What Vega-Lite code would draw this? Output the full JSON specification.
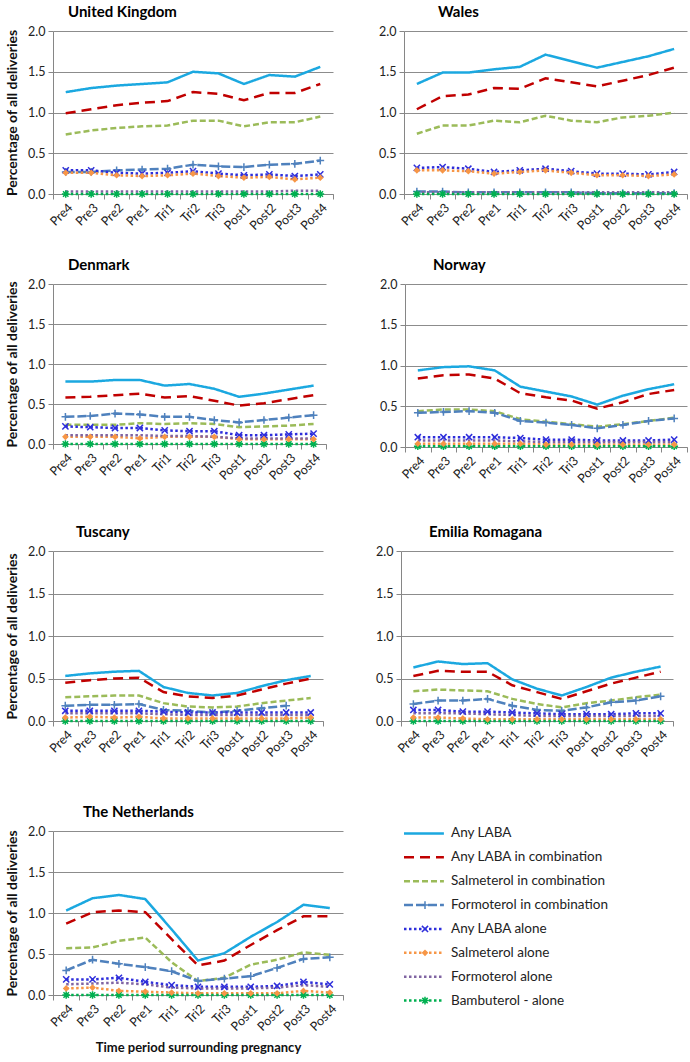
{
"$schema":"https://vega.github.io/schema/vega-lite/v6.json",
"background":"white",
"padding":5,
"config":{
 "view":{"stroke":null},
 "font":"Lato",
 "axis":{"domainColor":"#868686","tickColor":"#868686","gridColor":"#8c8c8c","labelFont":"Lato","labelColor":"#222","titleFont":"Lato","titleFontSize":14,"titleFontWeight":"bold","titleColor":"#111","tickSize":5},
 "axisX":{"grid":false,"labelFontSize":12.5,"labelAngle":-45,"tickBand":"extent","title":null},
 "axisY":{"labelFontSize":12.5,"grid":true,"labelPadding":3,"titlePadding":8},
 "title":{"font":"Lato","fontSize":15,"fontWeight":"bold","anchor":"start","frame":"group","color":"#000","offset":5}
},
"datasets":{
"leg":[
{"s":"A","label":"Any LABA"},{"s":"B","label":"Any LABA in combination"},{"s":"C","label":"Salmeterol in combination"},{"s":"D","label":"Formoterol in combination"},{"s":"E","label":"Any LABA alone"},{"s":"F","label":"Salmeterol alone"},{"s":"G","label":"Formoterol alone"},{"s":"H","label":"Bambuterol - alone"}
],
"main":[
{"r":"UK","s":"A","p":"Pre4","v":1.25},{"r":"UK","s":"A","p":"Pre3","v":1.30},{"r":"UK","s":"A","p":"Pre2","v":1.33},{"r":"UK","s":"A","p":"Pre1","v":1.35},{"r":"UK","s":"A","p":"Tri1","v":1.37},{"r":"UK","s":"A","p":"Tri2","v":1.50},{"r":"UK","s":"A","p":"Tri3","v":1.48},{"r":"UK","s":"A","p":"Post1","v":1.35},{"r":"UK","s":"A","p":"Post2","v":1.46},{"r":"UK","s":"A","p":"Post3","v":1.44},{"r":"UK","s":"A","p":"Post4","v":1.56},
{"r":"UK","s":"B","p":"Pre4","v":0.99},{"r":"UK","s":"B","p":"Pre3","v":1.04},{"r":"UK","s":"B","p":"Pre2","v":1.09},{"r":"UK","s":"B","p":"Pre1","v":1.12},{"r":"UK","s":"B","p":"Tri1","v":1.14},{"r":"UK","s":"B","p":"Tri2","v":1.25},{"r":"UK","s":"B","p":"Tri3","v":1.23},{"r":"UK","s":"B","p":"Post1","v":1.15},{"r":"UK","s":"B","p":"Post2","v":1.24},{"r":"UK","s":"B","p":"Post3","v":1.24},{"r":"UK","s":"B","p":"Post4","v":1.35},
{"r":"UK","s":"C","p":"Pre4","v":0.73},{"r":"UK","s":"C","p":"Pre3","v":0.78},{"r":"UK","s":"C","p":"Pre2","v":0.81},{"r":"UK","s":"C","p":"Pre1","v":0.83},{"r":"UK","s":"C","p":"Tri1","v":0.84},{"r":"UK","s":"C","p":"Tri2","v":0.90},{"r":"UK","s":"C","p":"Tri3","v":0.90},{"r":"UK","s":"C","p":"Post1","v":0.83},{"r":"UK","s":"C","p":"Post2","v":0.88},{"r":"UK","s":"C","p":"Post3","v":0.88},{"r":"UK","s":"C","p":"Post4","v":0.95},
{"r":"UK","s":"D","p":"Pre4","v":0.27},{"r":"UK","s":"D","p":"Pre3","v":0.27},{"r":"UK","s":"D","p":"Pre2","v":0.29},{"r":"UK","s":"D","p":"Pre1","v":0.30},{"r":"UK","s":"D","p":"Tri1","v":0.31},{"r":"UK","s":"D","p":"Tri2","v":0.36},{"r":"UK","s":"D","p":"Tri3","v":0.34},{"r":"UK","s":"D","p":"Post1","v":0.33},{"r":"UK","s":"D","p":"Post2","v":0.36},{"r":"UK","s":"D","p":"Post3","v":0.37},{"r":"UK","s":"D","p":"Post4","v":0.41},
{"r":"UK","s":"E","p":"Pre4","v":0.29},{"r":"UK","s":"E","p":"Pre3","v":0.29},{"r":"UK","s":"E","p":"Pre2","v":0.26},{"r":"UK","s":"E","p":"Pre1","v":0.25},{"r":"UK","s":"E","p":"Tri1","v":0.26},{"r":"UK","s":"E","p":"Tri2","v":0.28},{"r":"UK","s":"E","p":"Tri3","v":0.25},{"r":"UK","s":"E","p":"Post1","v":0.23},{"r":"UK","s":"E","p":"Post2","v":0.24},{"r":"UK","s":"E","p":"Post3","v":0.22},{"r":"UK","s":"E","p":"Post4","v":0.24},
{"r":"UK","s":"F","p":"Pre4","v":0.26},{"r":"UK","s":"F","p":"Pre3","v":0.26},{"r":"UK","s":"F","p":"Pre2","v":0.23},{"r":"UK","s":"F","p":"Pre1","v":0.22},{"r":"UK","s":"F","p":"Tri1","v":0.23},{"r":"UK","s":"F","p":"Tri2","v":0.25},{"r":"UK","s":"F","p":"Tri3","v":0.22},{"r":"UK","s":"F","p":"Post1","v":0.20},{"r":"UK","s":"F","p":"Post2","v":0.21},{"r":"UK","s":"F","p":"Post3","v":0.18},{"r":"UK","s":"F","p":"Post4","v":0.20},
{"r":"UK","s":"G","p":"Pre4","v":0.03},{"r":"UK","s":"G","p":"Pre3","v":0.03},{"r":"UK","s":"G","p":"Pre2","v":0.03},{"r":"UK","s":"G","p":"Pre1","v":0.03},{"r":"UK","s":"G","p":"Tri1","v":0.03},{"r":"UK","s":"G","p":"Tri2","v":0.03},{"r":"UK","s":"G","p":"Tri3","v":0.03},{"r":"UK","s":"G","p":"Post1","v":0.03},{"r":"UK","s":"G","p":"Post2","v":0.03},{"r":"UK","s":"G","p":"Post3","v":0.04},{"r":"UK","s":"G","p":"Post4","v":0.04},
{"r":"UK","s":"H","p":"Pre4","v":0.0},{"r":"UK","s":"H","p":"Pre3","v":0.0},{"r":"UK","s":"H","p":"Pre2","v":0.0},{"r":"UK","s":"H","p":"Pre1","v":0.0},{"r":"UK","s":"H","p":"Tri1","v":0.0},{"r":"UK","s":"H","p":"Tri2","v":0.0},{"r":"UK","s":"H","p":"Tri3","v":0.0},{"r":"UK","s":"H","p":"Post1","v":0.0},{"r":"UK","s":"H","p":"Post2","v":0.0},{"r":"UK","s":"H","p":"Post3","v":0.0},{"r":"UK","s":"H","p":"Post4","v":0.0},
{"r":"WA","s":"A","p":"Pre4","v":1.35},{"r":"WA","s":"A","p":"Pre3","v":1.49},{"r":"WA","s":"A","p":"Pre2","v":1.49},{"r":"WA","s":"A","p":"Pre1","v":1.53},{"r":"WA","s":"A","p":"Tri1","v":1.56},{"r":"WA","s":"A","p":"Tri2","v":1.71},{"r":"WA","s":"A","p":"Tri3","v":1.63},{"r":"WA","s":"A","p":"Post1","v":1.55},{"r":"WA","s":"A","p":"Post2","v":1.62},{"r":"WA","s":"A","p":"Post3","v":1.69},{"r":"WA","s":"A","p":"Post4","v":1.78},
{"r":"WA","s":"B","p":"Pre4","v":1.04},{"r":"WA","s":"B","p":"Pre3","v":1.20},{"r":"WA","s":"B","p":"Pre2","v":1.22},{"r":"WA","s":"B","p":"Pre1","v":1.30},{"r":"WA","s":"B","p":"Tri1","v":1.29},{"r":"WA","s":"B","p":"Tri2","v":1.42},{"r":"WA","s":"B","p":"Tri3","v":1.37},{"r":"WA","s":"B","p":"Post1","v":1.32},{"r":"WA","s":"B","p":"Post2","v":1.39},{"r":"WA","s":"B","p":"Post3","v":1.46},{"r":"WA","s":"B","p":"Post4","v":1.55},
{"r":"WA","s":"C","p":"Pre4","v":0.74},{"r":"WA","s":"C","p":"Pre3","v":0.84},{"r":"WA","s":"C","p":"Pre2","v":0.84},{"r":"WA","s":"C","p":"Pre1","v":0.90},{"r":"WA","s":"C","p":"Tri1","v":0.88},{"r":"WA","s":"C","p":"Tri2","v":0.96},{"r":"WA","s":"C","p":"Tri3","v":0.90},{"r":"WA","s":"C","p":"Post1","v":0.88},{"r":"WA","s":"C","p":"Post2","v":0.94},{"r":"WA","s":"C","p":"Post3","v":0.96},{"r":"WA","s":"C","p":"Post4","v":1.00},
{"r":"WA","s":"D","p":"Pre4","v":0.03},{"r":"WA","s":"D","p":"Pre3","v":0.03},{"r":"WA","s":"D","p":"Pre2","v":0.02},{"r":"WA","s":"D","p":"Pre1","v":0.02},{"r":"WA","s":"D","p":"Tri1","v":0.02},{"r":"WA","s":"D","p":"Tri2","v":0.02},{"r":"WA","s":"D","p":"Tri3","v":0.02},{"r":"WA","s":"D","p":"Post1","v":0.01},{"r":"WA","s":"D","p":"Post2","v":0.01},{"r":"WA","s":"D","p":"Post3","v":0.01},{"r":"WA","s":"D","p":"Post4","v":0.01},
{"r":"WA","s":"E","p":"Pre4","v":0.32},{"r":"WA","s":"E","p":"Pre3","v":0.33},{"r":"WA","s":"E","p":"Pre2","v":0.31},{"r":"WA","s":"E","p":"Pre1","v":0.27},{"r":"WA","s":"E","p":"Tri1","v":0.29},{"r":"WA","s":"E","p":"Tri2","v":0.31},{"r":"WA","s":"E","p":"Tri3","v":0.28},{"r":"WA","s":"E","p":"Post1","v":0.25},{"r":"WA","s":"E","p":"Post2","v":0.25},{"r":"WA","s":"E","p":"Post3","v":0.24},{"r":"WA","s":"E","p":"Post4","v":0.27},
{"r":"WA","s":"F","p":"Pre4","v":0.29},{"r":"WA","s":"F","p":"Pre3","v":0.29},{"r":"WA","s":"F","p":"Pre2","v":0.28},{"r":"WA","s":"F","p":"Pre1","v":0.25},{"r":"WA","s":"F","p":"Tri1","v":0.27},{"r":"WA","s":"F","p":"Tri2","v":0.29},{"r":"WA","s":"F","p":"Tri3","v":0.26},{"r":"WA","s":"F","p":"Post1","v":0.23},{"r":"WA","s":"F","p":"Post2","v":0.23},{"r":"WA","s":"F","p":"Post3","v":0.22},{"r":"WA","s":"F","p":"Post4","v":0.24},
{"r":"WA","s":"G","p":"Pre4","v":0.02},{"r":"WA","s":"G","p":"Pre3","v":0.02},{"r":"WA","s":"G","p":"Pre2","v":0.02},{"r":"WA","s":"G","p":"Pre1","v":0.02},{"r":"WA","s":"G","p":"Tri1","v":0.02},{"r":"WA","s":"G","p":"Tri2","v":0.02},{"r":"WA","s":"G","p":"Tri3","v":0.02},{"r":"WA","s":"G","p":"Post1","v":0.02},{"r":"WA","s":"G","p":"Post2","v":0.02},{"r":"WA","s":"G","p":"Post3","v":0.02},{"r":"WA","s":"G","p":"Post4","v":0.02},
{"r":"WA","s":"H","p":"Pre4","v":0.0},{"r":"WA","s":"H","p":"Pre3","v":0.0},{"r":"WA","s":"H","p":"Pre2","v":0.0},{"r":"WA","s":"H","p":"Pre1","v":0.0},{"r":"WA","s":"H","p":"Tri1","v":0.0},{"r":"WA","s":"H","p":"Tri2","v":0.0},{"r":"WA","s":"H","p":"Tri3","v":0.0},{"r":"WA","s":"H","p":"Post1","v":0.0},{"r":"WA","s":"H","p":"Post2","v":0.0},{"r":"WA","s":"H","p":"Post3","v":0.0},{"r":"WA","s":"H","p":"Post4","v":0.0},
{"r":"DK","s":"A","p":"Pre4","v":0.78},{"r":"DK","s":"A","p":"Pre3","v":0.78},{"r":"DK","s":"A","p":"Pre2","v":0.80},{"r":"DK","s":"A","p":"Pre1","v":0.80},{"r":"DK","s":"A","p":"Tri1","v":0.73},{"r":"DK","s":"A","p":"Tri2","v":0.75},{"r":"DK","s":"A","p":"Tri3","v":0.69},{"r":"DK","s":"A","p":"Post1","v":0.59},{"r":"DK","s":"A","p":"Post2","v":0.63},{"r":"DK","s":"A","p":"Post3","v":0.68},{"r":"DK","s":"A","p":"Post4","v":0.73},
{"r":"DK","s":"B","p":"Pre4","v":0.58},{"r":"DK","s":"B","p":"Pre3","v":0.59},{"r":"DK","s":"B","p":"Pre2","v":0.61},{"r":"DK","s":"B","p":"Pre1","v":0.63},{"r":"DK","s":"B","p":"Tri1","v":0.58},{"r":"DK","s":"B","p":"Tri2","v":0.60},{"r":"DK","s":"B","p":"Tri3","v":0.54},{"r":"DK","s":"B","p":"Post1","v":0.48},{"r":"DK","s":"B","p":"Post2","v":0.51},{"r":"DK","s":"B","p":"Post3","v":0.56},{"r":"DK","s":"B","p":"Post4","v":0.61},
{"r":"DK","s":"C","p":"Pre4","v":0.24},{"r":"DK","s":"C","p":"Pre3","v":0.24},{"r":"DK","s":"C","p":"Pre2","v":0.24},{"r":"DK","s":"C","p":"Pre1","v":0.26},{"r":"DK","s":"C","p":"Tri1","v":0.25},{"r":"DK","s":"C","p":"Tri2","v":0.26},{"r":"DK","s":"C","p":"Tri3","v":0.25},{"r":"DK","s":"C","p":"Post1","v":0.21},{"r":"DK","s":"C","p":"Post2","v":0.22},{"r":"DK","s":"C","p":"Post3","v":0.23},{"r":"DK","s":"C","p":"Post4","v":0.25},
{"r":"DK","s":"D","p":"Pre4","v":0.34},{"r":"DK","s":"D","p":"Pre3","v":0.35},{"r":"DK","s":"D","p":"Pre2","v":0.38},{"r":"DK","s":"D","p":"Pre1","v":0.37},{"r":"DK","s":"D","p":"Tri1","v":0.34},{"r":"DK","s":"D","p":"Tri2","v":0.34},{"r":"DK","s":"D","p":"Tri3","v":0.30},{"r":"DK","s":"D","p":"Post1","v":0.27},{"r":"DK","s":"D","p":"Post2","v":0.30},{"r":"DK","s":"D","p":"Post3","v":0.33},{"r":"DK","s":"D","p":"Post4","v":0.36},
{"r":"DK","s":"E","p":"Pre4","v":0.22},{"r":"DK","s":"E","p":"Pre3","v":0.21},{"r":"DK","s":"E","p":"Pre2","v":0.20},{"r":"DK","s":"E","p":"Pre1","v":0.20},{"r":"DK","s":"E","p":"Tri1","v":0.17},{"r":"DK","s":"E","p":"Tri2","v":0.16},{"r":"DK","s":"E","p":"Tri3","v":0.16},{"r":"DK","s":"E","p":"Post1","v":0.11},{"r":"DK","s":"E","p":"Post2","v":0.11},{"r":"DK","s":"E","p":"Post3","v":0.12},{"r":"DK","s":"E","p":"Post4","v":0.13},
{"r":"DK","s":"F","p":"Pre4","v":0.09},{"r":"DK","s":"F","p":"Pre3","v":0.09},{"r":"DK","s":"F","p":"Pre2","v":0.09},{"r":"DK","s":"F","p":"Pre1","v":0.07},{"r":"DK","s":"F","p":"Tri1","v":0.09},{"r":"DK","s":"F","p":"Tri2","v":0.09},{"r":"DK","s":"F","p":"Tri3","v":0.09},{"r":"DK","s":"F","p":"Post1","v":0.06},{"r":"DK","s":"F","p":"Post2","v":0.06},{"r":"DK","s":"F","p":"Post3","v":0.06},{"r":"DK","s":"F","p":"Post4","v":0.06},
{"r":"DK","s":"G","p":"Pre4","v":0.11},{"r":"DK","s":"G","p":"Pre3","v":0.11},{"r":"DK","s":"G","p":"Pre2","v":0.11},{"r":"DK","s":"G","p":"Pre1","v":0.11},{"r":"DK","s":"G","p":"Tri1","v":0.10},{"r":"DK","s":"G","p":"Tri2","v":0.10},{"r":"DK","s":"G","p":"Tri3","v":0.09},{"r":"DK","s":"G","p":"Post1","v":0.07},{"r":"DK","s":"G","p":"Post2","v":0.07},{"r":"DK","s":"G","p":"Post3","v":0.07},{"r":"DK","s":"G","p":"Post4","v":0.07},
{"r":"DK","s":"H","p":"Pre4","v":0.0},{"r":"DK","s":"H","p":"Pre3","v":0.0},{"r":"DK","s":"H","p":"Pre2","v":0.0},{"r":"DK","s":"H","p":"Pre1","v":0.0},{"r":"DK","s":"H","p":"Tri1","v":0.0},{"r":"DK","s":"H","p":"Tri2","v":0.0},{"r":"DK","s":"H","p":"Tri3","v":0.0},{"r":"DK","s":"H","p":"Post1","v":0.0},{"r":"DK","s":"H","p":"Post2","v":0.0},{"r":"DK","s":"H","p":"Post3","v":0.0},{"r":"DK","s":"H","p":"Post4","v":0.0},
{"r":"NO","s":"A","p":"Pre4","v":0.94},{"r":"NO","s":"A","p":"Pre3","v":0.98},{"r":"NO","s":"A","p":"Pre2","v":0.99},{"r":"NO","s":"A","p":"Pre1","v":0.94},{"r":"NO","s":"A","p":"Tri1","v":0.74},{"r":"NO","s":"A","p":"Tri2","v":0.68},{"r":"NO","s":"A","p":"Tri3","v":0.62},{"r":"NO","s":"A","p":"Post1","v":0.52},{"r":"NO","s":"A","p":"Post2","v":0.63},{"r":"NO","s":"A","p":"Post3","v":0.71},{"r":"NO","s":"A","p":"Post4","v":0.77},
{"r":"NO","s":"B","p":"Pre4","v":0.84},{"r":"NO","s":"B","p":"Pre3","v":0.88},{"r":"NO","s":"B","p":"Pre2","v":0.89},{"r":"NO","s":"B","p":"Pre1","v":0.84},{"r":"NO","s":"B","p":"Tri1","v":0.66},{"r":"NO","s":"B","p":"Tri2","v":0.61},{"r":"NO","s":"B","p":"Tri3","v":0.57},{"r":"NO","s":"B","p":"Post1","v":0.47},{"r":"NO","s":"B","p":"Post2","v":0.55},{"r":"NO","s":"B","p":"Post3","v":0.65},{"r":"NO","s":"B","p":"Post4","v":0.70},
{"r":"NO","s":"C","p":"Pre4","v":0.44},{"r":"NO","s":"C","p":"Pre3","v":0.46},{"r":"NO","s":"C","p":"Pre2","v":0.46},{"r":"NO","s":"C","p":"Pre1","v":0.44},{"r":"NO","s":"C","p":"Tri1","v":0.34},{"r":"NO","s":"C","p":"Tri2","v":0.31},{"r":"NO","s":"C","p":"Tri3","v":0.28},{"r":"NO","s":"C","p":"Post1","v":0.25},{"r":"NO","s":"C","p":"Post2","v":0.28},{"r":"NO","s":"C","p":"Post3","v":0.32},{"r":"NO","s":"C","p":"Post4","v":0.36},
{"r":"NO","s":"D","p":"Pre4","v":0.42},{"r":"NO","s":"D","p":"Pre3","v":0.43},{"r":"NO","s":"D","p":"Pre2","v":0.44},{"r":"NO","s":"D","p":"Pre1","v":0.42},{"r":"NO","s":"D","p":"Tri1","v":0.32},{"r":"NO","s":"D","p":"Tri2","v":0.30},{"r":"NO","s":"D","p":"Tri3","v":0.27},{"r":"NO","s":"D","p":"Post1","v":0.23},{"r":"NO","s":"D","p":"Post2","v":0.27},{"r":"NO","s":"D","p":"Post3","v":0.32},{"r":"NO","s":"D","p":"Post4","v":0.35},
{"r":"NO","s":"E","p":"Pre4","v":0.12},{"r":"NO","s":"E","p":"Pre3","v":0.12},{"r":"NO","s":"E","p":"Pre2","v":0.12},{"r":"NO","s":"E","p":"Pre1","v":0.12},{"r":"NO","s":"E","p":"Tri1","v":0.11},{"r":"NO","s":"E","p":"Tri2","v":0.09},{"r":"NO","s":"E","p":"Tri3","v":0.09},{"r":"NO","s":"E","p":"Post1","v":0.08},{"r":"NO","s":"E","p":"Post2","v":0.08},{"r":"NO","s":"E","p":"Post3","v":0.08},{"r":"NO","s":"E","p":"Post4","v":0.09},
{"r":"NO","s":"F","p":"Pre4","v":0.04},{"r":"NO","s":"F","p":"Pre3","v":0.04},{"r":"NO","s":"F","p":"Pre2","v":0.04},{"r":"NO","s":"F","p":"Pre1","v":0.04},{"r":"NO","s":"F","p":"Tri1","v":0.04},{"r":"NO","s":"F","p":"Tri2","v":0.03},{"r":"NO","s":"F","p":"Tri3","v":0.03},{"r":"NO","s":"F","p":"Post1","v":0.03},{"r":"NO","s":"F","p":"Post2","v":0.03},{"r":"NO","s":"F","p":"Post3","v":0.03},{"r":"NO","s":"F","p":"Post4","v":0.03},
{"r":"NO","s":"G","p":"Pre4","v":0.08},{"r":"NO","s":"G","p":"Pre3","v":0.08},{"r":"NO","s":"G","p":"Pre2","v":0.08},{"r":"NO","s":"G","p":"Pre1","v":0.08},{"r":"NO","s":"G","p":"Tri1","v":0.07},{"r":"NO","s":"G","p":"Tri2","v":0.06},{"r":"NO","s":"G","p":"Tri3","v":0.06},{"r":"NO","s":"G","p":"Post1","v":0.06},{"r":"NO","s":"G","p":"Post2","v":0.06},{"r":"NO","s":"G","p":"Post3","v":0.06},{"r":"NO","s":"G","p":"Post4","v":0.06},
{"r":"NO","s":"H","p":"Pre4","v":0.01},{"r":"NO","s":"H","p":"Pre3","v":0.01},{"r":"NO","s":"H","p":"Pre2","v":0.01},{"r":"NO","s":"H","p":"Pre1","v":0.01},{"r":"NO","s":"H","p":"Tri1","v":0.01},{"r":"NO","s":"H","p":"Tri2","v":0.01},{"r":"NO","s":"H","p":"Tri3","v":0.01},{"r":"NO","s":"H","p":"Post1","v":0.01},{"r":"NO","s":"H","p":"Post2","v":0.01},{"r":"NO","s":"H","p":"Post3","v":0.01},{"r":"NO","s":"H","p":"Post4","v":0.01},
{"r":"TU","s":"A","p":"Pre4","v":0.53},{"r":"TU","s":"A","p":"Pre3","v":0.56},{"r":"TU","s":"A","p":"Pre2","v":0.58},{"r":"TU","s":"A","p":"Pre1","v":0.59},{"r":"TU","s":"A","p":"Tri1","v":0.40},{"r":"TU","s":"A","p":"Tri2","v":0.33},{"r":"TU","s":"A","p":"Tri3","v":0.30},{"r":"TU","s":"A","p":"Post1","v":0.33},{"r":"TU","s":"A","p":"Post2","v":0.41},{"r":"TU","s":"A","p":"Post3","v":0.48},{"r":"TU","s":"A","p":"Post4","v":0.53},
{"r":"TU","s":"B","p":"Pre4","v":0.45},{"r":"TU","s":"B","p":"Pre3","v":0.48},{"r":"TU","s":"B","p":"Pre2","v":0.50},{"r":"TU","s":"B","p":"Pre1","v":0.51},{"r":"TU","s":"B","p":"Tri1","v":0.34},{"r":"TU","s":"B","p":"Tri2","v":0.29},{"r":"TU","s":"B","p":"Tri3","v":0.27},{"r":"TU","s":"B","p":"Post1","v":0.30},{"r":"TU","s":"B","p":"Post2","v":0.37},{"r":"TU","s":"B","p":"Post3","v":0.44},{"r":"TU","s":"B","p":"Post4","v":0.50},
{"r":"TU","s":"C","p":"Pre4","v":0.28},{"r":"TU","s":"C","p":"Pre3","v":0.29},{"r":"TU","s":"C","p":"Pre2","v":0.30},{"r":"TU","s":"C","p":"Pre1","v":0.30},{"r":"TU","s":"C","p":"Tri1","v":0.21},{"r":"TU","s":"C","p":"Tri2","v":0.17},{"r":"TU","s":"C","p":"Tri3","v":0.16},{"r":"TU","s":"C","p":"Post1","v":0.17},{"r":"TU","s":"C","p":"Post2","v":0.21},{"r":"TU","s":"C","p":"Post3","v":0.24},{"r":"TU","s":"C","p":"Post4","v":0.27},
{"r":"TU","s":"D","p":"Pre4","v":0.18},{"r":"TU","s":"D","p":"Pre3","v":0.19},{"r":"TU","s":"D","p":"Pre2","v":0.19},{"r":"TU","s":"D","p":"Pre1","v":0.20},{"r":"TU","s":"D","p":"Tri1","v":0.13},{"r":"TU","s":"D","p":"Tri2","v":0.12},{"r":"TU","s":"D","p":"Tri3","v":0.10},{"r":"TU","s":"D","p":"Post1","v":0.12},{"r":"TU","s":"D","p":"Post2","v":0.15},{"r":"TU","s":"D","p":"Post3","v":0.18},
{"r":"TU","s":"E","p":"Pre4","v":0.12},{"r":"TU","s":"E","p":"Pre3","v":0.12},{"r":"TU","s":"E","p":"Pre2","v":0.12},{"r":"TU","s":"E","p":"Pre1","v":0.12},{"r":"TU","s":"E","p":"Tri1","v":0.11},{"r":"TU","s":"E","p":"Tri2","v":0.10},{"r":"TU","s":"E","p":"Tri3","v":0.10},{"r":"TU","s":"E","p":"Post1","v":0.10},{"r":"TU","s":"E","p":"Post2","v":0.10},{"r":"TU","s":"E","p":"Post3","v":0.10},{"r":"TU","s":"E","p":"Post4","v":0.10},
{"r":"TU","s":"F","p":"Pre4","v":0.04},{"r":"TU","s":"F","p":"Pre3","v":0.05},{"r":"TU","s":"F","p":"Pre2","v":0.04},{"r":"TU","s":"F","p":"Pre1","v":0.05},{"r":"TU","s":"F","p":"Tri1","v":0.03},{"r":"TU","s":"F","p":"Tri2","v":0.03},{"r":"TU","s":"F","p":"Tri3","v":0.03},{"r":"TU","s":"F","p":"Post1","v":0.03},{"r":"TU","s":"F","p":"Post2","v":0.03},{"r":"TU","s":"F","p":"Post3","v":0.03},{"r":"TU","s":"F","p":"Post4","v":0.04},
{"r":"TU","s":"G","p":"Pre4","v":0.09},{"r":"TU","s":"G","p":"Pre3","v":0.09},{"r":"TU","s":"G","p":"Pre2","v":0.09},{"r":"TU","s":"G","p":"Pre1","v":0.09},{"r":"TU","s":"G","p":"Tri1","v":0.08},{"r":"TU","s":"G","p":"Tri2","v":0.07},{"r":"TU","s":"G","p":"Tri3","v":0.07},{"r":"TU","s":"G","p":"Post1","v":0.07},{"r":"TU","s":"G","p":"Post2","v":0.07},{"r":"TU","s":"G","p":"Post3","v":0.07},{"r":"TU","s":"G","p":"Post4","v":0.07},
{"r":"TU","s":"H","p":"Pre4","v":0.0},{"r":"TU","s":"H","p":"Pre3","v":0.0},{"r":"TU","s":"H","p":"Pre2","v":0.0},{"r":"TU","s":"H","p":"Pre1","v":0.0},{"r":"TU","s":"H","p":"Tri1","v":0.0},{"r":"TU","s":"H","p":"Tri2","v":0.0},{"r":"TU","s":"H","p":"Tri3","v":0.0},{"r":"TU","s":"H","p":"Post1","v":0.0},{"r":"TU","s":"H","p":"Post2","v":0.0},{"r":"TU","s":"H","p":"Post3","v":0.0},{"r":"TU","s":"H","p":"Post4","v":0.0},
{"r":"ER","s":"A","p":"Pre4","v":0.63},{"r":"ER","s":"A","p":"Pre3","v":0.70},{"r":"ER","s":"A","p":"Pre2","v":0.67},{"r":"ER","s":"A","p":"Pre1","v":0.68},{"r":"ER","s":"A","p":"Tri1","v":0.49},{"r":"ER","s":"A","p":"Tri2","v":0.38},{"r":"ER","s":"A","p":"Tri3","v":0.30},{"r":"ER","s":"A","p":"Post1","v":0.40},{"r":"ER","s":"A","p":"Post2","v":0.51},{"r":"ER","s":"A","p":"Post3","v":0.58},{"r":"ER","s":"A","p":"Post4","v":0.64},
{"r":"ER","s":"B","p":"Pre4","v":0.53},{"r":"ER","s":"B","p":"Pre3","v":0.59},{"r":"ER","s":"B","p":"Pre2","v":0.58},{"r":"ER","s":"B","p":"Pre1","v":0.58},{"r":"ER","s":"B","p":"Tri1","v":0.42},{"r":"ER","s":"B","p":"Tri2","v":0.34},{"r":"ER","s":"B","p":"Tri3","v":0.26},{"r":"ER","s":"B","p":"Post1","v":0.35},{"r":"ER","s":"B","p":"Post2","v":0.44},{"r":"ER","s":"B","p":"Post3","v":0.51},{"r":"ER","s":"B","p":"Post4","v":0.58},
{"r":"ER","s":"C","p":"Pre4","v":0.35},{"r":"ER","s":"C","p":"Pre3","v":0.37},{"r":"ER","s":"C","p":"Pre2","v":0.36},{"r":"ER","s":"C","p":"Pre1","v":0.35},{"r":"ER","s":"C","p":"Tri1","v":0.26},{"r":"ER","s":"C","p":"Tri2","v":0.20},{"r":"ER","s":"C","p":"Tri3","v":0.16},{"r":"ER","s":"C","p":"Post1","v":0.21},{"r":"ER","s":"C","p":"Post2","v":0.24},{"r":"ER","s":"C","p":"Post3","v":0.28},{"r":"ER","s":"C","p":"Post4","v":0.31},
{"r":"ER","s":"D","p":"Pre4","v":0.20},{"r":"ER","s":"D","p":"Pre3","v":0.24},{"r":"ER","s":"D","p":"Pre2","v":0.24},{"r":"ER","s":"D","p":"Pre1","v":0.26},{"r":"ER","s":"D","p":"Tri1","v":0.18},{"r":"ER","s":"D","p":"Tri2","v":0.13},{"r":"ER","s":"D","p":"Tri3","v":0.12},{"r":"ER","s":"D","p":"Post1","v":0.16},{"r":"ER","s":"D","p":"Post2","v":0.22},{"r":"ER","s":"D","p":"Post3","v":0.24},{"r":"ER","s":"D","p":"Post4","v":0.29},
{"r":"ER","s":"E","p":"Pre4","v":0.13},{"r":"ER","s":"E","p":"Pre3","v":0.13},{"r":"ER","s":"E","p":"Pre2","v":0.11},{"r":"ER","s":"E","p":"Pre1","v":0.11},{"r":"ER","s":"E","p":"Tri1","v":0.10},{"r":"ER","s":"E","p":"Tri2","v":0.09},{"r":"ER","s":"E","p":"Tri3","v":0.08},{"r":"ER","s":"E","p":"Post1","v":0.08},{"r":"ER","s":"E","p":"Post2","v":0.08},{"r":"ER","s":"E","p":"Post3","v":0.09},{"r":"ER","s":"E","p":"Post4","v":0.09},
{"r":"ER","s":"F","p":"Pre4","v":0.04},{"r":"ER","s":"F","p":"Pre3","v":0.04},{"r":"ER","s":"F","p":"Pre2","v":0.03},{"r":"ER","s":"F","p":"Pre1","v":0.02},{"r":"ER","s":"F","p":"Tri1","v":0.02},{"r":"ER","s":"F","p":"Tri2","v":0.02},{"r":"ER","s":"F","p":"Tri3","v":0.02},{"r":"ER","s":"F","p":"Post1","v":0.02},{"r":"ER","s":"F","p":"Post2","v":0.02},{"r":"ER","s":"F","p":"Post3","v":0.02},{"r":"ER","s":"F","p":"Post4","v":0.02},
{"r":"ER","s":"G","p":"Pre4","v":0.09},{"r":"ER","s":"G","p":"Pre3","v":0.09},{"r":"ER","s":"G","p":"Pre2","v":0.09},{"r":"ER","s":"G","p":"Pre1","v":0.08},{"r":"ER","s":"G","p":"Tri1","v":0.07},{"r":"ER","s":"G","p":"Tri2","v":0.06},{"r":"ER","s":"G","p":"Tri3","v":0.06},{"r":"ER","s":"G","p":"Post1","v":0.06},{"r":"ER","s":"G","p":"Post2","v":0.06},{"r":"ER","s":"G","p":"Post3","v":0.06},{"r":"ER","s":"G","p":"Post4","v":0.06},
{"r":"ER","s":"H","p":"Pre4","v":0.0},{"r":"ER","s":"H","p":"Pre3","v":0.0},{"r":"ER","s":"H","p":"Pre2","v":0.0},{"r":"ER","s":"H","p":"Pre1","v":0.0},{"r":"ER","s":"H","p":"Tri1","v":0.0},{"r":"ER","s":"H","p":"Tri2","v":0.0},{"r":"ER","s":"H","p":"Tri3","v":0.0},{"r":"ER","s":"H","p":"Post1","v":0.0},{"r":"ER","s":"H","p":"Post2","v":0.0},{"r":"ER","s":"H","p":"Post3","v":0.0},{"r":"ER","s":"H","p":"Post4","v":0.0},
{"r":"NL","s":"A","p":"Pre4","v":1.03},{"r":"NL","s":"A","p":"Pre3","v":1.18},{"r":"NL","s":"A","p":"Pre2","v":1.22},{"r":"NL","s":"A","p":"Pre1","v":1.17},{"r":"NL","s":"A","p":"Tri1","v":0.80},{"r":"NL","s":"A","p":"Tri2","v":0.42},{"r":"NL","s":"A","p":"Tri3","v":0.51},{"r":"NL","s":"A","p":"Post1","v":0.71},{"r":"NL","s":"A","p":"Post2","v":0.89},{"r":"NL","s":"A","p":"Post3","v":1.10},{"r":"NL","s":"A","p":"Post4","v":1.06},
{"r":"NL","s":"B","p":"Pre4","v":0.87},{"r":"NL","s":"B","p":"Pre3","v":1.01},{"r":"NL","s":"B","p":"Pre2","v":1.03},{"r":"NL","s":"B","p":"Pre1","v":1.01},{"r":"NL","s":"B","p":"Tri1","v":0.68},{"r":"NL","s":"B","p":"Tri2","v":0.36},{"r":"NL","s":"B","p":"Tri3","v":0.42},{"r":"NL","s":"B","p":"Post1","v":0.61},{"r":"NL","s":"B","p":"Post2","v":0.79},{"r":"NL","s":"B","p":"Post3","v":0.96},{"r":"NL","s":"B","p":"Post4","v":0.96},
{"r":"NL","s":"C","p":"Pre4","v":0.57},{"r":"NL","s":"C","p":"Pre3","v":0.58},{"r":"NL","s":"C","p":"Pre2","v":0.66},{"r":"NL","s":"C","p":"Pre1","v":0.70},{"r":"NL","s":"C","p":"Tri1","v":0.40},{"r":"NL","s":"C","p":"Tri2","v":0.17},{"r":"NL","s":"C","p":"Tri3","v":0.21},{"r":"NL","s":"C","p":"Post1","v":0.37},{"r":"NL","s":"C","p":"Post2","v":0.43},{"r":"NL","s":"C","p":"Post3","v":0.52},{"r":"NL","s":"C","p":"Post4","v":0.49},
{"r":"NL","s":"D","p":"Pre4","v":0.30},{"r":"NL","s":"D","p":"Pre3","v":0.43},{"r":"NL","s":"D","p":"Pre2","v":0.38},{"r":"NL","s":"D","p":"Pre1","v":0.34},{"r":"NL","s":"D","p":"Tri1","v":0.29},{"r":"NL","s":"D","p":"Tri2","v":0.17},{"r":"NL","s":"D","p":"Tri3","v":0.20},{"r":"NL","s":"D","p":"Post1","v":0.23},{"r":"NL","s":"D","p":"Post2","v":0.33},{"r":"NL","s":"D","p":"Post3","v":0.44},{"r":"NL","s":"D","p":"Post4","v":0.46},
{"r":"NL","s":"E","p":"Pre4","v":0.19},{"r":"NL","s":"E","p":"Pre3","v":0.19},{"r":"NL","s":"E","p":"Pre2","v":0.21},{"r":"NL","s":"E","p":"Pre1","v":0.16},{"r":"NL","s":"E","p":"Tri1","v":0.12},{"r":"NL","s":"E","p":"Tri2","v":0.10},{"r":"NL","s":"E","p":"Tri3","v":0.10},{"r":"NL","s":"E","p":"Post1","v":0.10},{"r":"NL","s":"E","p":"Post2","v":0.11},{"r":"NL","s":"E","p":"Post3","v":0.16},{"r":"NL","s":"E","p":"Post4","v":0.13},
{"r":"NL","s":"F","p":"Pre4","v":0.08},{"r":"NL","s":"F","p":"Pre3","v":0.09},{"r":"NL","s":"F","p":"Pre2","v":0.05},{"r":"NL","s":"F","p":"Pre1","v":0.04},{"r":"NL","s":"F","p":"Tri1","v":0.03},{"r":"NL","s":"F","p":"Tri2","v":0.02},{"r":"NL","s":"F","p":"Tri3","v":0.02},{"r":"NL","s":"F","p":"Post1","v":0.02},{"r":"NL","s":"F","p":"Post2","v":0.02},{"r":"NL","s":"F","p":"Post3","v":0.05},{"r":"NL","s":"F","p":"Post4","v":0.03},
{"r":"NL","s":"G","p":"Pre4","v":0.13},{"r":"NL","s":"G","p":"Pre3","v":0.14},{"r":"NL","s":"G","p":"Pre2","v":0.15},{"r":"NL","s":"G","p":"Pre1","v":0.13},{"r":"NL","s":"G","p":"Tri1","v":0.09},{"r":"NL","s":"G","p":"Tri2","v":0.08},{"r":"NL","s":"G","p":"Tri3","v":0.08},{"r":"NL","s":"G","p":"Post1","v":0.08},{"r":"NL","s":"G","p":"Post2","v":0.09},{"r":"NL","s":"G","p":"Post3","v":0.12},{"r":"NL","s":"G","p":"Post4","v":0.10},
{"r":"NL","s":"H","p":"Pre4","v":0.0},{"r":"NL","s":"H","p":"Pre3","v":0.0},{"r":"NL","s":"H","p":"Pre2","v":0.0},{"r":"NL","s":"H","p":"Pre1","v":0.0},{"r":"NL","s":"H","p":"Tri1","v":0.0},{"r":"NL","s":"H","p":"Tri2","v":0.0},{"r":"NL","s":"H","p":"Tri3","v":0.0},{"r":"NL","s":"H","p":"Post1","v":0.0},{"r":"NL","s":"H","p":"Post2","v":0.0},{"r":"NL","s":"H","p":"Post3","v":0.0},{"r":"NL","s":"H","p":"Post4","v":0.0}
]},
"vconcat":[
{"vconcat":[
 {"hconcat":[
  {"width":280,"height":163,"data":{"name":"main"},"title":{"text":"United Kingdom","dx":15},"transform":[{"filter":"datum.r==='UK'"}],
   "encoding":{"x":{"field":"p","type":"ordinal","scale":{"type":"band","domain":["Pre4","Pre3","Pre2","Pre1","Tri1","Tri2","Tri3","Post1","Post2","Post3","Post4"],"paddingInner":0,"paddingOuter":0}},
    "y":{"field":"v","type":"quantitative","scale":{"domain":[0,2]},"axis":{"values":[0,0.5,1,1.5,2],"format":".1f","title":"Percentage of all deliveries"}}},
   "layer":[
    {"mark":{"type":"line","strokeWidth":2.5},"encoding":{"color":{"field":"s","type":"nominal","scale":{"domain":["A","B","C","D","E","F","G","H"],"range":["#1BA8E0","#C00000","#9BBB59","#4F81BD","#2E2EDB","#F79646","#8064A2","#00B050"]},"legend":null},"strokeDash":{"field":"s","type":"nominal","scale":{"domain":["A","B","C","D","E","F","G","H"],"range":[[1,0],[10,6],[6,3],[9,3],[2.5,2.5],[2.5,2.5],[2.5,2.5],[2.5,2.5]]},"legend":null}}},
    {"transform":[{"filter":{"field":"s","oneOf":["D","E","H"]}}],"mark":{"type":"point","filled":false,"strokeWidth":1.5,"size":60,"opacity":1},"encoding":{"color":{"field":"s","type":"nominal","legend":null},"shape":{"field":"s","type":"nominal","scale":{"domain":["D","E","H"],"range":["M-1,0L1,0M0,-1L0,1","M-0.8,-0.8L0.8,0.8M-0.8,0.8L0.8,-0.8","M-1,0L1,0M0,-1L0,1M-0.7,-0.7L0.7,0.7M-0.7,0.7L0.7,-0.7"]},"legend":null}}},
    {"transform":[{"filter":"datum.s==='F'"}],"mark":{"type":"point","shape":"diamond","filled":true,"size":45,"color":"#F79646","opacity":1}}
   ]},
  {"width":283,"height":163,"data":{"name":"main"},"title":{"text":"Wales","dx":34},"transform":[{"filter":"datum.r==='WA'"}],
   "encoding":{"x":{"field":"p","type":"ordinal","scale":{"type":"band","domain":["Pre4","Pre3","Pre2","Pre1","Tri1","Tri2","Tri3","Post1","Post2","Post3","Post4"],"paddingInner":0,"paddingOuter":0}},
    "y":{"field":"v","type":"quantitative","scale":{"domain":[0,2]},"axis":{"values":[0,0.5,1,1.5,2],"format":".1f","title":null}}},
   "layer":[
    {"mark":{"type":"line","strokeWidth":2.5},"encoding":{"color":{"field":"s","type":"nominal","scale":{"domain":["A","B","C","D","E","F","G","H"],"range":["#1BA8E0","#C00000","#9BBB59","#4F81BD","#2E2EDB","#F79646","#8064A2","#00B050"]},"legend":null},"strokeDash":{"field":"s","type":"nominal","scale":{"domain":["A","B","C","D","E","F","G","H"],"range":[[1,0],[10,6],[6,3],[9,3],[2.5,2.5],[2.5,2.5],[2.5,2.5],[2.5,2.5]]},"legend":null}}},
    {"transform":[{"filter":{"field":"s","oneOf":["D","E","H"]}}],"mark":{"type":"point","filled":false,"strokeWidth":1.5,"size":60,"opacity":1},"encoding":{"color":{"field":"s","type":"nominal","legend":null},"shape":{"field":"s","type":"nominal","scale":{"domain":["D","E","H"],"range":["M-1,0L1,0M0,-1L0,1","M-0.8,-0.8L0.8,0.8M-0.8,0.8L0.8,-0.8","M-1,0L1,0M0,-1L0,1M-0.7,-0.7L0.7,0.7M-0.7,0.7L0.7,-0.7"]},"legend":null}}},
    {"transform":[{"filter":"datum.s==='F'"}],"mark":{"type":"point","shape":"diamond","filled":true,"size":45,"color":"#F79646","opacity":1}}
   ]}
 ],"spacing":44},
 {"hconcat":[
  {"width":273,"height":160,"data":{"name":"main"},"title":{"text":"Denmark","dx":15},"transform":[{"filter":"datum.r==='DK'"}],
   "encoding":{"x":{"field":"p","type":"ordinal","scale":{"type":"band","domain":["Pre4","Pre3","Pre2","Pre1","Tri1","Tri2","Tri3","Post1","Post2","Post3","Post4"],"paddingInner":0,"paddingOuter":0}},
    "y":{"field":"v","type":"quantitative","scale":{"domain":[0,2]},"axis":{"values":[0,0.5,1,1.5,2],"format":".1f","title":"Percentage of all deliveries"}}},
   "layer":[
    {"mark":{"type":"line","strokeWidth":2.5},"encoding":{"color":{"field":"s","type":"nominal","scale":{"domain":["A","B","C","D","E","F","G","H"],"range":["#1BA8E0","#C00000","#9BBB59","#4F81BD","#2E2EDB","#F79646","#8064A2","#00B050"]},"legend":null},"strokeDash":{"field":"s","type":"nominal","scale":{"domain":["A","B","C","D","E","F","G","H"],"range":[[1,0],[10,6],[6,3],[9,3],[2.5,2.5],[2.5,2.5],[2.5,2.5],[2.5,2.5]]},"legend":null}}},
    {"transform":[{"filter":{"field":"s","oneOf":["D","E","H"]}}],"mark":{"type":"point","filled":false,"strokeWidth":1.5,"size":60,"opacity":1},"encoding":{"color":{"field":"s","type":"nominal","legend":null},"shape":{"field":"s","type":"nominal","scale":{"domain":["D","E","H"],"range":["M-1,0L1,0M0,-1L0,1","M-0.8,-0.8L0.8,0.8M-0.8,0.8L0.8,-0.8","M-1,0L1,0M0,-1L0,1M-0.7,-0.7L0.7,0.7M-0.7,0.7L0.7,-0.7"]},"legend":null}}},
    {"transform":[{"filter":"datum.s==='F'"}],"mark":{"type":"point","shape":"diamond","filled":true,"size":45,"color":"#F79646","opacity":1}}
   ]},
  {"width":282,"height":163,"data":{"name":"main"},"title":{"text":"Norway","dx":28},"transform":[{"filter":"datum.r==='NO'"}],
   "encoding":{"x":{"field":"p","type":"ordinal","scale":{"type":"band","domain":["Pre4","Pre3","Pre2","Pre1","Tri1","Tri2","Tri3","Post1","Post2","Post3","Post4"],"paddingInner":0,"paddingOuter":0}},
    "y":{"field":"v","type":"quantitative","scale":{"domain":[0,2]},"axis":{"values":[0,0.5,1,1.5,2],"format":".1f","title":null}}},
   "layer":[
    {"mark":{"type":"line","strokeWidth":2.5},"encoding":{"color":{"field":"s","type":"nominal","scale":{"domain":["A","B","C","D","E","F","G","H"],"range":["#1BA8E0","#C00000","#9BBB59","#4F81BD","#2E2EDB","#F79646","#8064A2","#00B050"]},"legend":null},"strokeDash":{"field":"s","type":"nominal","scale":{"domain":["A","B","C","D","E","F","G","H"],"range":[[1,0],[10,6],[6,3],[9,3],[2.5,2.5],[2.5,2.5],[2.5,2.5],[2.5,2.5]]},"legend":null}}},
    {"transform":[{"filter":{"field":"s","oneOf":["D","E","H"]}}],"mark":{"type":"point","filled":false,"strokeWidth":1.5,"size":60,"opacity":1},"encoding":{"color":{"field":"s","type":"nominal","legend":null},"shape":{"field":"s","type":"nominal","scale":{"domain":["D","E","H"],"range":["M-1,0L1,0M0,-1L0,1","M-0.8,-0.8L0.8,0.8M-0.8,0.8L0.8,-0.8","M-1,0L1,0M0,-1L0,1M-0.7,-0.7L0.7,0.7M-0.7,0.7L0.7,-0.7"]},"legend":null}}},
    {"transform":[{"filter":"datum.s==='F'"}],"mark":{"type":"point","shape":"diamond","filled":true,"size":45,"color":"#F79646","opacity":1}}
   ]}
 ],"spacing":52}
],"spacing":25},
{"vconcat":[
 {"hconcat":[
  {"width":270,"height":170,"data":{"name":"main"},"title":{"text":"Tuscany","dx":23},"transform":[{"filter":"datum.r==='TU'"}],
   "encoding":{"x":{"field":"p","type":"ordinal","scale":{"type":"band","domain":["Pre4","Pre3","Pre2","Pre1","Tri1","Tri2","Tri3","Post1","Post2","Post3","Post4"],"paddingInner":0,"paddingOuter":0}},
    "y":{"field":"v","type":"quantitative","scale":{"domain":[0,2]},"axis":{"values":[0,0.5,1,1.5,2],"format":".1f","title":"Percentage of all deliveries"}}},
   "layer":[
    {"mark":{"type":"line","strokeWidth":2.5},"encoding":{"color":{"field":"s","type":"nominal","scale":{"domain":["A","B","C","D","E","F","G","H"],"range":["#1BA8E0","#C00000","#9BBB59","#4F81BD","#2E2EDB","#F79646","#8064A2","#00B050"]},"legend":null},"strokeDash":{"field":"s","type":"nominal","scale":{"domain":["A","B","C","D","E","F","G","H"],"range":[[1,0],[10,6],[6,3],[9,3],[2.5,2.5],[2.5,2.5],[2.5,2.5],[2.5,2.5]]},"legend":null}}},
    {"transform":[{"filter":{"field":"s","oneOf":["D","E","H"]}}],"mark":{"type":"point","filled":false,"strokeWidth":1.5,"size":60,"opacity":1},"encoding":{"color":{"field":"s","type":"nominal","legend":null},"shape":{"field":"s","type":"nominal","scale":{"domain":["D","E","H"],"range":["M-1,0L1,0M0,-1L0,1","M-0.8,-0.8L0.8,0.8M-0.8,0.8L0.8,-0.8","M-1,0L1,0M0,-1L0,1M-0.7,-0.7L0.7,0.7M-0.7,0.7L0.7,-0.7"]},"legend":null}}},
    {"transform":[{"filter":"datum.s==='F'"}],"mark":{"type":"point","shape":"diamond","filled":true,"size":45,"color":"#F79646","opacity":1}}
   ]},
  {"width":272,"height":170,"data":{"name":"main"},"title":{"text":"Emilia Romagana","dx":28},"transform":[{"filter":"datum.r==='ER'"}],
   "encoding":{"x":{"field":"p","type":"ordinal","scale":{"type":"band","domain":["Pre4","Pre3","Pre2","Pre1","Tri1","Tri2","Tri3","Post1","Post2","Post3","Post4"],"paddingInner":0,"paddingOuter":0}},
    "y":{"field":"v","type":"quantitative","scale":{"domain":[0,2]},"axis":{"values":[0,0.5,1,1.5,2],"format":".1f","title":null}}},
   "layer":[
    {"mark":{"type":"line","strokeWidth":2.5},"encoding":{"color":{"field":"s","type":"nominal","scale":{"domain":["A","B","C","D","E","F","G","H"],"range":["#1BA8E0","#C00000","#9BBB59","#4F81BD","#2E2EDB","#F79646","#8064A2","#00B050"]},"legend":null},"strokeDash":{"field":"s","type":"nominal","scale":{"domain":["A","B","C","D","E","F","G","H"],"range":[[1,0],[10,6],[6,3],[9,3],[2.5,2.5],[2.5,2.5],[2.5,2.5],[2.5,2.5]]},"legend":null}}},
    {"transform":[{"filter":{"field":"s","oneOf":["D","E","H"]}}],"mark":{"type":"point","filled":false,"strokeWidth":1.5,"size":60,"opacity":1},"encoding":{"color":{"field":"s","type":"nominal","legend":null},"shape":{"field":"s","type":"nominal","scale":{"domain":["D","E","H"],"range":["M-1,0L1,0M0,-1L0,1","M-0.8,-0.8L0.8,0.8M-0.8,0.8L0.8,-0.8","M-1,0L1,0M0,-1L0,1M-0.7,-0.7L0.7,0.7M-0.7,0.7L0.7,-0.7"]},"legend":null}}},
    {"transform":[{"filter":"datum.s==='F'"}],"mark":{"type":"point","shape":"diamond","filled":true,"size":45,"color":"#F79646","opacity":1}}
   ]}
 ],"spacing":51},
 {"hconcat":[
  {"width":290,"height":164,"data":{"name":"main"},"title":{"text":"The Netherlands","dx":30},"transform":[{"filter":"datum.r==='NL'"}],
   "encoding":{"x":{"field":"p","type":"ordinal","scale":{"type":"band","domain":["Pre4","Pre3","Pre2","Pre1","Tri1","Tri2","Tri3","Post1","Post2","Post3","Post4"],"paddingInner":0,"paddingOuter":0},"axis":{"title":"Time period surrounding pregnancy","titlePadding":8,"titleFontSize":13}},
    "y":{"field":"v","type":"quantitative","scale":{"domain":[0,2]},"axis":{"values":[0,0.5,1,1.5,2],"format":".1f","title":"Percentage of all deliveries"}}},
   "layer":[
    {"mark":{"type":"line","strokeWidth":2.5},"encoding":{"color":{"field":"s","type":"nominal","scale":{"domain":["A","B","C","D","E","F","G","H"],"range":["#1BA8E0","#C00000","#9BBB59","#4F81BD","#2E2EDB","#F79646","#8064A2","#00B050"]},"legend":null},"strokeDash":{"field":"s","type":"nominal","scale":{"domain":["A","B","C","D","E","F","G","H"],"range":[[1,0],[10,6],[6,3],[9,3],[2.5,2.5],[2.5,2.5],[2.5,2.5],[2.5,2.5]]},"legend":null}}},
    {"transform":[{"filter":{"field":"s","oneOf":["D","E","H"]}}],"mark":{"type":"point","filled":false,"strokeWidth":1.5,"size":60,"opacity":1},"encoding":{"color":{"field":"s","type":"nominal","legend":null},"shape":{"field":"s","type":"nominal","scale":{"domain":["D","E","H"],"range":["M-1,0L1,0M0,-1L0,1","M-0.8,-0.8L0.8,0.8M-0.8,0.8L0.8,-0.8","M-1,0L1,0M0,-1L0,1M-0.7,-0.7L0.7,0.7M-0.7,0.7L0.7,-0.7"]},"legend":null}}},
    {"transform":[{"filter":"datum.s==='F'"}],"mark":{"type":"point","shape":"diamond","filled":true,"size":45,"color":"#F79646","opacity":1}}
   ]},
  {"width":210,"height":172,"data":{"name":"leg"},"title":{"text":" "},
   "encoding":{"y":{"field":"s","type":"nominal","scale":{"type":"point","domain":["A","B","C","D","E","F","G","H"],"padding":0.1},"axis":null}},
   "layer":[
    {"mark":{"type":"rule","strokeWidth":2.5},"encoding":{"x":{"datum":0,"type":"quantitative","scale":{"domain":[0,5]},"axis":null},"x2":{"datum":0.95},"color":{"field":"s","type":"nominal","scale":{"domain":["A","B","C","D","E","F","G","H"],"range":["#1BA8E0","#C00000","#9BBB59","#4F81BD","#2E2EDB","#F79646","#8064A2","#00B050"]},"legend":null},"strokeDash":{"field":"s","type":"nominal","scale":{"domain":["A","B","C","D","E","F","G","H"],"range":[[1,0],[10,6],[6,3],[9,3],[2.5,2.5],[2.5,2.5],[2.5,2.5],[2.5,2.5]]},"legend":null}}},
    {"transform":[{"filter":{"field":"s","oneOf":["D","E","H"]}}],"mark":{"type":"point","filled":false,"strokeWidth":1.5,"size":60,"opacity":1},"encoding":{"x":{"datum":0.5,"type":"quantitative"},"color":{"field":"s","type":"nominal","legend":null},"shape":{"field":"s","type":"nominal","scale":{"domain":["D","E","H"],"range":["M-1,0L1,0M0,-1L0,1","M-0.8,-0.8L0.8,0.8M-0.8,0.8L0.8,-0.8","M-1,0L1,0M0,-1L0,1M-0.7,-0.7L0.7,0.7M-0.7,0.7L0.7,-0.7"]},"legend":null}}},
    {"transform":[{"filter":"datum.s==='F'"}],"mark":{"type":"point","shape":"diamond","filled":true,"size":45,"color":"#F79646","opacity":1},"encoding":{"x":{"datum":0.5,"type":"quantitative"}}},
    {"mark":{"type":"text","align":"left","baseline":"middle","fontSize":13.5,"font":"Lato","color":"#222"},"encoding":{"x":{"datum":1.12,"type":"quantitative"},"text":{"field":"label"}}}
   ]}
 ],"spacing":58}
],"spacing":45}
],"spacing":39}
